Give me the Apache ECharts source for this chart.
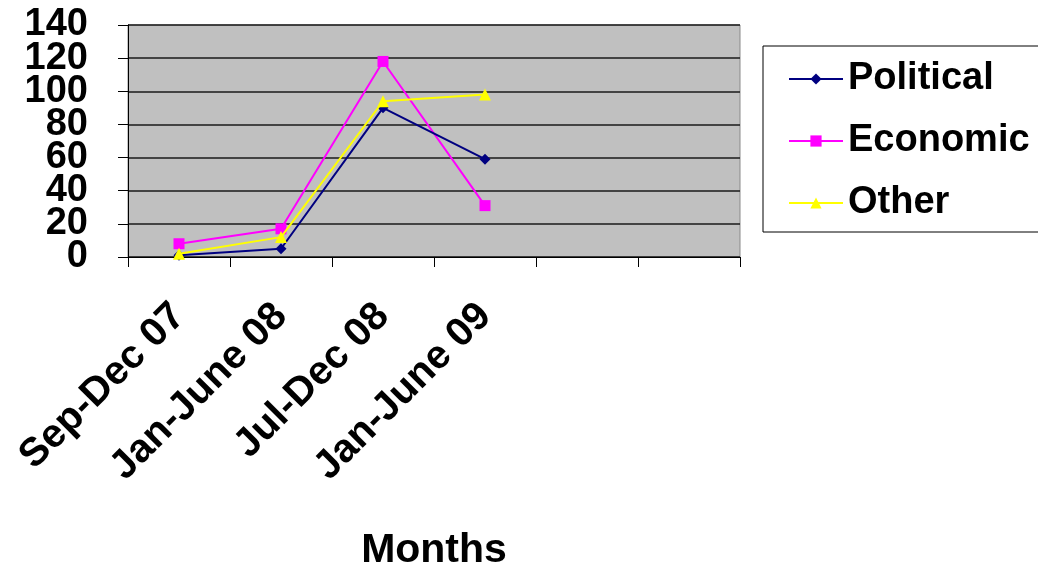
<!DOCTYPE html>
<html>
<head>
<meta charset="utf-8">
<script src="https://cdn.jsdelivr.net/npm/echarts@6/dist/echarts.min.js"></script>
<style>
  html, body { margin: 0; padding: 0; background: #ffffff; }
  #chart { width: 1038px; height: 567px; }
</style>
</head>
<body>
<div id="chart"></div>
<script>
// Periods on the x axis (two trailing empty slots keep the axis width)
const categories = ['Sep-Dec 07', 'Jan-June 08', 'Jul-Dec 08', 'Jan-June 09', '', ''];

// Counts per period
const political = [1, 5, 90, 59];
const economic = [8, 17, 118, 31];
const other = [2, 12, 94, 98];

// Value axis range
const yMin = 0;
const yMax = 140;
const yStep = 20;

// The large tick labels touch each other, so they are split over two
// coincident value axes (every other label on each) to keep all of them.
const yLabelsA = [0, 40, 80, 120];
const yLabelsB = [20, 60, 100, 140];

const FONT = '"Liberation Sans", Arial, sans-serif';

const yLabelStyle = {
  margin: 40,
  fontFamily: FONT,
  fontSize: 38,
  fontWeight: 'bold',
  color: '#000000'
};

const chart = echarts.init(document.getElementById('chart'), null, { renderer: 'canvas' });

chart.setOption({
  animation: false,
  backgroundColor: '#ffffff',
  grid: {
    left: 128,
    right: 298,
    top: 25,
    bottom: 310,
    containLabel: false,
    outerBoundsMode: 'none',
    show: true,
    backgroundColor: '#c0c0c0',
    borderColor: '#8a8a8a',
    borderWidth: 1
  },
  legend: {
    orient: 'vertical',
    left: 763,
    top: 46,
    padding: [14, 20, 10, 25],
    itemGap: 24,
    itemWidth: 54,
    itemHeight: 14,
    borderColor: '#000000',
    borderWidth: 1,
    backgroundColor: '#ffffff',
    textStyle: {
      fontFamily: FONT,
      fontSize: 38,
      fontWeight: 'bold',
      color: '#000000'
    },
    data: ['Political', 'Economic', 'Other']
  },
  xAxis: {
    type: 'category',
    data: categories,
    boundaryGap: true,
    name: 'Months',
    nameLocation: 'middle',
    nameGap: 273,
    nameTextStyle: {
      fontFamily: FONT,
      fontSize: 41,
      fontWeight: 'bold',
      color: '#000000'
    },
    axisLine: { show: true, lineStyle: { color: '#000000', width: 1 } },
    axisTick: { show: true, length: 10, alignWithLabel: false, lineStyle: { color: '#000000' } },
    axisLabel: {
      interval: 0,
      rotate: 45,
      margin: 53,
      fontFamily: FONT,
      fontSize: 40,
      fontWeight: 'bold',
      color: '#000000'
    },
    splitLine: { show: false }
  },
  yAxis: [
    {
      type: 'value',
      position: 'left',
      min: yMin,
      max: yMax,
      interval: yStep,
      axisLine: { show: true, lineStyle: { color: '#000000', width: 1 } },
      axisTick: { show: true, length: 10, lineStyle: { color: '#000000' } },
      axisLabel: Object.assign({ customValues: yLabelsA }, yLabelStyle),
      splitLine: { show: true, lineStyle: { color: '#1a1a1a', width: 1.5 } }
    },
    {
      type: 'value',
      position: 'left',
      offset: 0,
      min: yMin,
      max: yMax,
      interval: yStep,
      axisLine: { show: false },
      axisTick: { show: false },
      axisLabel: Object.assign({ customValues: yLabelsB }, yLabelStyle),
      splitLine: { show: false }
    }
  ],
  series: [
    {
      name: 'Political',
      type: 'line',
      data: political,
      symbol: 'diamond',
      symbolSize: 11,
      showAllSymbol: true,
      color: '#000080',
      lineStyle: { color: '#000080', width: 2 },
      itemStyle: { color: '#000080' },
      z: 3
    },
    {
      name: 'Economic',
      type: 'line',
      data: economic,
      symbol: 'rect',
      symbolSize: 11,
      showAllSymbol: true,
      color: '#ff00ff',
      lineStyle: { color: '#ff00ff', width: 2 },
      itemStyle: { color: '#ff00ff' },
      z: 2
    },
    {
      name: 'Other',
      type: 'line',
      data: other,
      symbol: 'triangle',
      symbolSize: 12,
      showAllSymbol: true,
      color: '#ffff00',
      lineStyle: { color: '#ffff00', width: 2 },
      itemStyle: { color: '#ffff00' },
      z: 4
    }
  ]
});
</script>
</body>
</html>
